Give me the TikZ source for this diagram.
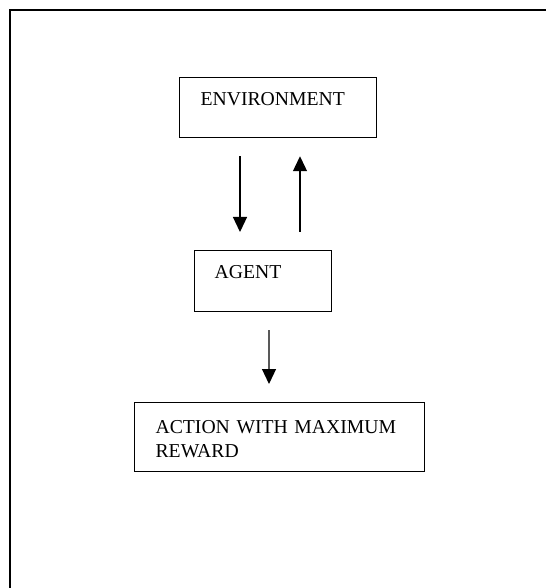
\documentclass[tikz,border=0pt]{standalone}
\usepackage{fontspec}
\setmainfont{Liberation Serif}
\usetikzlibrary{arrows.meta, positioning}

\begin{document}
\begin{tikzpicture}[
    stage/.style={rectangle, draw=black, line width=0.7pt, anchor=north west, align=left, inner ysep=0pt, inner xsep=0.42cm, font=\fontsize{11.2}{13.7}\selectfont},
    flow/.style={draw, line width=0.7pt, -{Triangle[length=0.3cm, width=0.28cm]}, shorten <=0.36cm, shorten >=0.36cm},
    frame/.style={draw, line width=1.2pt}
]
\useasboundingbox (0,0) rectangle (10.9,-11.76);

% Page frame
\draw[frame] (0.2,-11.9) -- (0.2,-0.2) -- (11.0,-0.2);

% Nodes
\node[stage, text width=3.10cm, text height=0.56cm, text depth=0.64cm] (env) at (3.58,-1.54) {ENVIRONMENT};
\node[stage, inner xsep=0.40cm, text width=1.94cm, text height=0.56cm, text depth=0.66cm] (agent) at (3.88,-5.0) {AGENT};
\node[stage, text width=4.96cm, text height=0.62cm, text depth=0.76cm] (action) at (2.68,-8.04) {ACTION WITH MAXIMUM\\REWARD};

% Connections
\path[flow] ([xshift=1.22cm]env.south west) -- ([xshift=0.92cm]agent.north west);
\path[flow] ([xshift=2.12cm]agent.north west) -- ([xshift=2.42cm]env.south west);
\path[flow] ([xshift=1.5cm]agent.south west) -- ([xshift=2.7cm]action.north west);

\end{tikzpicture}
\end{document}
